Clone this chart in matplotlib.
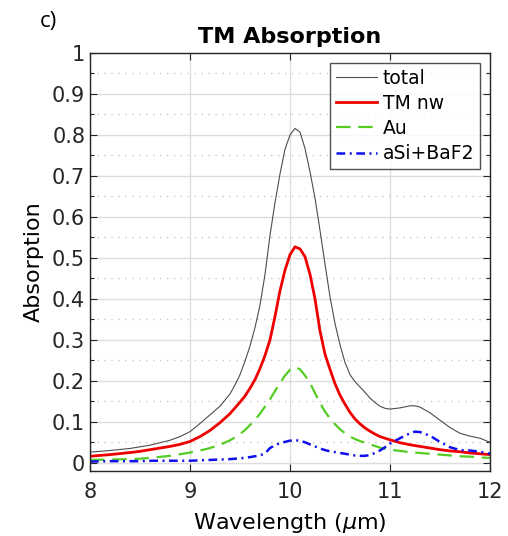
import matplotlib
matplotlib.use("Agg")
import matplotlib.pyplot as plt
from matplotlib.ticker import MultipleLocator

wavelength = [8.0, 8.2, 8.4, 8.5, 8.6, 8.8, 8.9,
              9.0, 9.1, 9.2, 9.3, 9.4,
              9.45, 9.5, 9.55, 9.6, 9.65, 9.7, 9.75, 9.8, 9.85, 9.9, 9.95,
              10.0, 10.05, 10.1, 10.15, 10.2, 10.25, 10.3, 10.35, 10.4, 10.45,
              10.5, 10.55, 10.6, 10.65, 10.7, 10.75, 10.8, 10.85, 10.9, 10.95,
              11.0, 11.1, 11.2, 11.25, 11.3, 11.4, 11.5, 11.6, 11.7, 11.8, 11.9, 12.0]

total = [0.026, 0.030, 0.035, 0.039, 0.043, 0.055, 0.064,
         0.076, 0.096, 0.117, 0.138, 0.168,
         0.19, 0.215, 0.248, 0.285, 0.33, 0.385, 0.46, 0.555, 0.635, 0.705, 0.765,
         0.80, 0.816, 0.807, 0.767, 0.71, 0.646, 0.567, 0.485, 0.405, 0.34,
         0.288, 0.245, 0.215, 0.198, 0.185, 0.172, 0.158, 0.147, 0.138, 0.133,
         0.131, 0.134, 0.139, 0.139, 0.136, 0.122, 0.104, 0.086, 0.072, 0.065, 0.06, 0.05]

tm_nw = [0.016, 0.020, 0.025, 0.028, 0.032, 0.040, 0.045,
         0.052, 0.064, 0.079, 0.098, 0.12,
         0.134, 0.148, 0.163, 0.182, 0.203, 0.23, 0.262, 0.30, 0.357, 0.42, 0.47,
         0.508, 0.527, 0.522, 0.503, 0.46, 0.40, 0.322, 0.265, 0.228, 0.193,
         0.165, 0.143, 0.123, 0.107, 0.095, 0.085, 0.077, 0.07, 0.064, 0.06,
         0.056, 0.049, 0.044, 0.042, 0.040, 0.036, 0.032, 0.029, 0.027, 0.024, 0.022, 0.02]

au = [0.007, 0.008, 0.009, 0.010, 0.012, 0.017, 0.021,
      0.025, 0.03, 0.036, 0.044, 0.055,
      0.062, 0.07, 0.08, 0.092, 0.105, 0.12, 0.137, 0.155, 0.175, 0.195, 0.213,
      0.227, 0.234, 0.228, 0.213, 0.195, 0.17, 0.146, 0.125, 0.108, 0.094,
      0.082, 0.072, 0.064, 0.058, 0.053, 0.049, 0.045, 0.041, 0.037, 0.034,
      0.032, 0.029, 0.026, 0.025, 0.024, 0.022, 0.02, 0.018, 0.016, 0.015, 0.013, 0.012]

asi_baf2 = [0.003, 0.004, 0.004, 0.004, 0.005, 0.005, 0.005,
            0.005, 0.006, 0.007, 0.008, 0.009,
            0.01, 0.011, 0.012, 0.014, 0.016, 0.018, 0.023, 0.036, 0.043, 0.048, 0.051,
            0.054, 0.055, 0.054, 0.05, 0.045, 0.04, 0.035, 0.031, 0.028, 0.026,
            0.024, 0.022, 0.02, 0.018, 0.017, 0.017, 0.019, 0.024, 0.03, 0.038,
            0.047, 0.06, 0.072, 0.076, 0.075, 0.066, 0.051, 0.038, 0.031, 0.03, 0.027, 0.022]

series_labels = ["total", "TM nw", "Au", "aSi+BaF2"]
x_ticks = [8, 9, 10, 11, 12]
y_ticks = [0, 0.1, 0.2, 0.3, 0.4, 0.5, 0.6, 0.7, 0.8, 0.9, 1]
y_tick_labels = ["0", "0.1", "0.2", "0.3", "0.4", "0.5", "0.6", "0.7", "0.8", "0.9", "1"]

plt.rcParams['font.family'] = ['DejaVu Sans']
plt.rcParams['mathtext.fontset'] = 'dejavusans'

fig = plt.figure(figsize=(5.08, 5.36), dpi=100)
ax = fig.add_axes([90/508, 1-471/536, 400/508, 418/536])

ax.plot(wavelength, total, color='#4d4d4d', lw=0.8, label=series_labels[0])
ax.plot(wavelength, tm_nw, color='#ee0000', lw=2.0, label=series_labels[1])
ax.plot(wavelength, au, color='#55cc22', lw=1.6, ls=(0, (6.5, 3.5)), label=series_labels[2])
ax.plot(wavelength, asi_baf2, color='#1010ee', lw=1.8, ls=(0, (3.5, 1.8, 0.8, 1.8)),
        label=series_labels[3])

ax.set_xlim(8, 12)
ax.set_ylim(-0.02, 1)
ax.set_xticks(x_ticks)
ax.set_xticklabels([str(t) for t in x_ticks])
ax.set_yticks(y_ticks)
ax.set_yticklabels(y_tick_labels)
ax.yaxis.set_minor_locator(MultipleLocator(0.05))

ax.grid(True, which='major', color='#dddddd', lw=1.0, ls='-')
ax.grid(True, which='minor', axis='y', color='#c8c8c8', lw=1.0, ls=(0, (1, 4)))
ax.set_axisbelow(True)

ax.tick_params(axis='both', which='both', direction='in', top=True, right=True,
               labelsize=15, colors='#262626', width=0.8)
ax.tick_params(axis='x', which='major', pad=8)
ax.tick_params(which='major', length=5)
ax.tick_params(which='minor', length=3)
for s in ax.spines.values():
    s.set_color('#262626')
    s.set_linewidth(1.0)

ax.set_title('TM Absorption', fontsize=16, fontweight='bold', pad=7)
ax.set_ylabel('Absorption', fontsize=16, labelpad=6)
ax.set_xlabel(r'Wavelength ($\mathit{\mu}$m)', fontsize=16, labelpad=6.5)

leg = ax.legend(loc='upper right', bbox_to_anchor=(0.975, 0.976), fontsize=13.5,
                frameon=True, fancybox=False, edgecolor='#262626', handlelength=2.2,
                handletextpad=0.3, borderpad=0.3, labelspacing=0.33, borderaxespad=0.0)
leg.get_frame().set_linewidth(1.0)

fig.text(40/508, 1-22/536, 'c)', fontsize=16, family='Open Sans', va='center', ha='left')

fig.savefig('out.png', dpi=100)
